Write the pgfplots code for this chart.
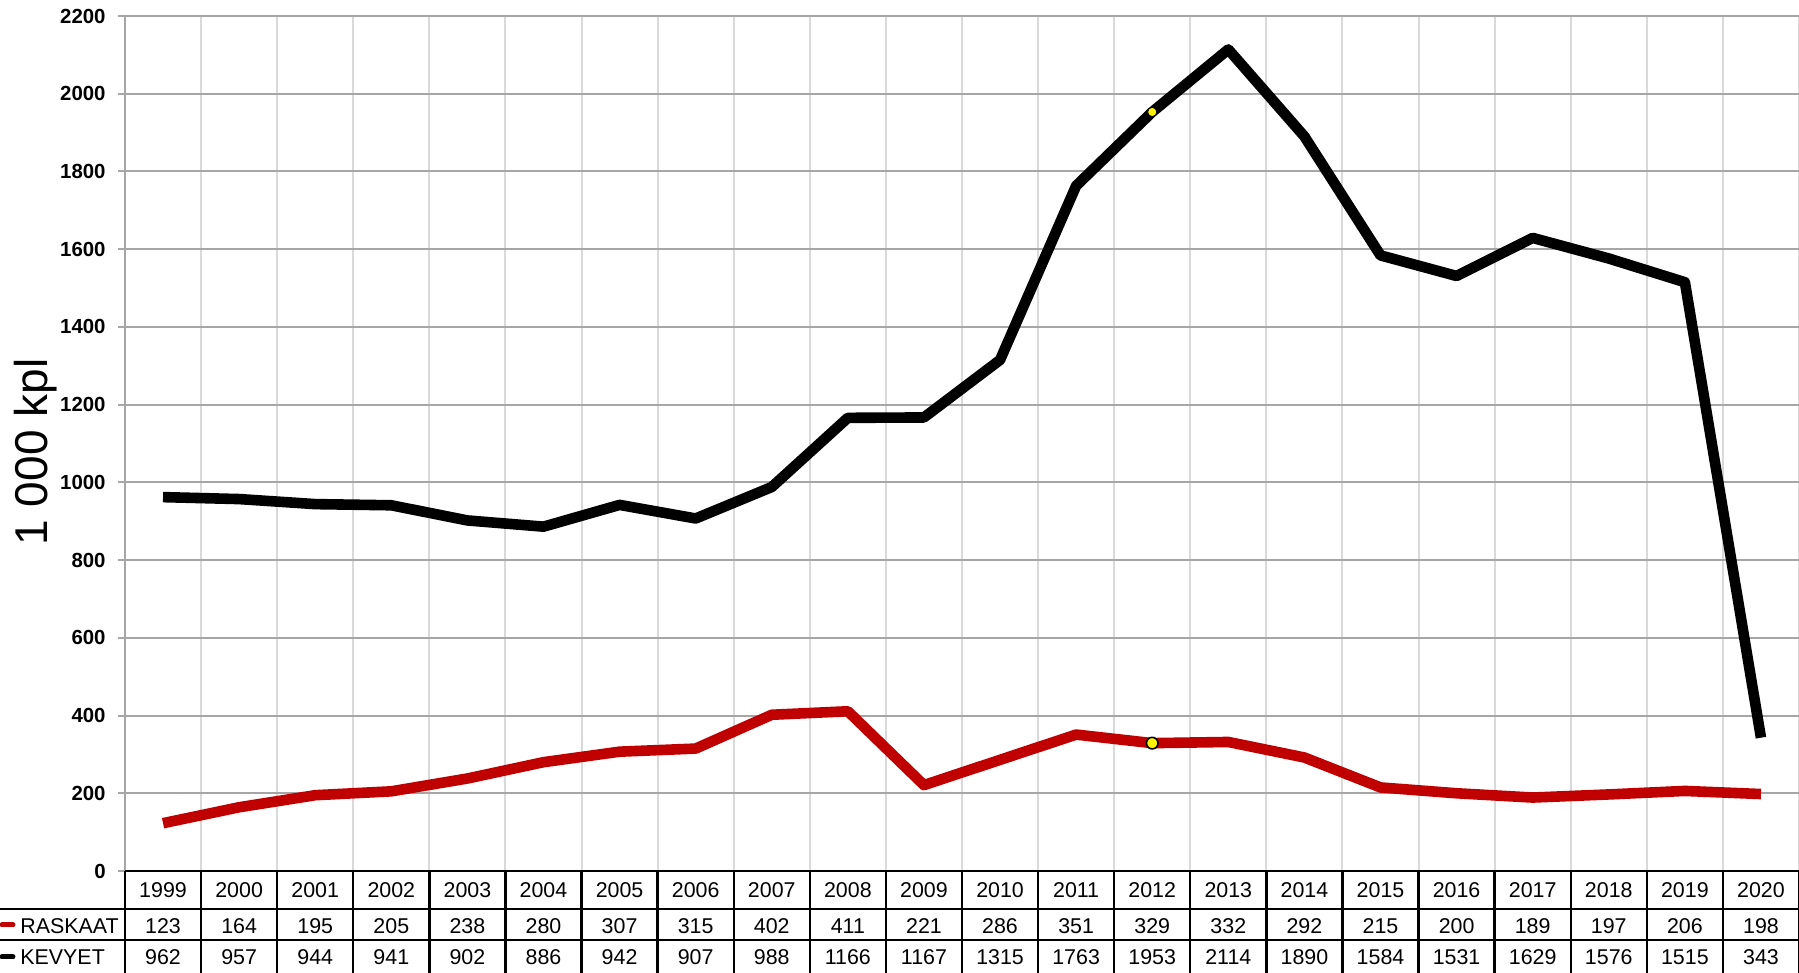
\documentclass[border=0pt]{standalone}
\usepackage{pgfplots}
\pgfplotsset{compat=1.18}
\usepackage{pgfplotstable}
\usepackage{fontspec}
\setmainfont{Liberation Sans}
\definecolor{redline}{HTML}{C00000}
\definecolor{gridgray}{HTML}{A6A6A6}
\definecolor{vgray}{HTML}{D9D9D9}

\pgfplotstableread{
idx year raskaat kevyet
0 1999 123 962
1 2000 164 957
2 2001 195 944
3 2002 205 941
4 2003 238 902
5 2004 280 886
6 2005 307 942
7 2006 315 907
8 2007 402 988
9 2008 411 1166
10 2009 221 1167
11 2010 286 1315
12 2011 351 1763
13 2012 329 1953
14 2013 332 2114
15 2014 292 1890
16 2015 215 1584
17 2016 200 1531
18 2017 189 1629
19 2018 197 1576
20 2019 206 1515
21 2020 198 343
}\data

\newcommand\tabfont{\fontsize{10.7}{12}\selectfont}

\begin{document}
\begin{tikzpicture}
\def\catw{38.04545}
\begin{axis}[
  at={(0,0)}, anchor=south west,
  scale only axis, width=837pt, height=427.5pt,
  xmin=-0.5, xmax=21.5, ymin=0, ymax=2200,
  axis lines*=left,
  axis line style={draw=gridgray, line width=1pt, -},
  xtick={-0.5,0.5,...,21.5}, xticklabels={},
  xtick style={draw=none},
  xmajorgrids, ymajorgrids,
  x grid style={vgray, line width=1pt},
  y grid style={gridgray, line width=1pt},
  ytick={0,200,...,2200},
  tick align=outside,
  major tick length=3.5pt,
  ytick style={draw=gridgray, line width=1pt},
  yticklabel style={font=\bfseries\fontsize{10.2}{12}\selectfont, inner sep=0pt, xshift=-6pt},
  /pgf/number format/assume math mode=true,
  /pgf/number format/1000 sep={},
  ylabel={1 000 kpl},
  ylabel style={font=\fontsize{23}{26}\selectfont, at={(axis description cs:-0.0535,0.49)}, anchor=center},
  clip=false,
]
\addplot[redline, line width=5.3pt, line join=round] table[x=idx, y=raskaat]{\data};
\addplot[black, line width=5.3pt, line join=round] table[x=idx, y=kevyet]{\data};
\addplot[only marks, mark=*, mark size=2.3pt, mark options={fill=yellow, draw=none}] coordinates {(13,1953)};
\addplot[only marks, mark=*, mark size=2.9pt, mark options={fill=yellow, draw=black, line width=0.8pt}] coordinates {(13,329)};
\end{axis}
% data table under the plot
\draw[black, line width=1.2pt] (0,0) -- (837pt,0);
\draw[black, line width=1.2pt] (-62.5pt,-19pt) -- (837pt,-19pt);
\draw[black, line width=1.2pt] (-62.5pt,-34.5pt) -- (837pt,-34.5pt);
\foreach \k in {0,...,22}{
  \draw[black, line width=1.2pt] ({\k*\catw*1pt},0) -- ({\k*\catw*1pt},-52pt);
}
\foreach \i in {0,...,21}{
  \pgfplotstablegetelem{\i}{year}\of\data \let\yr\pgfplotsretval
  \pgfplotstablegetelem{\i}{raskaat}\of\data \let\ra\pgfplotsretval
  \pgfplotstablegetelem{\i}{kevyet}\of\data \let\ke\pgfplotsretval
  \node[font=\tabfont, inner sep=0pt] at ({(\i+0.5)*\catw*1pt},-9.5pt) {\yr};
  \node[font=\tabfont, inner sep=0pt] at ({(\i+0.5)*\catw*1pt},-27.5pt) {\ra};
  \node[font=\tabfont, inner sep=0pt] at ({(\i+0.5)*\catw*1pt},-43.25pt) {\ke};
}
\draw[redline, line width=2.5pt, line cap=round] (-61.5pt,-27pt) -- (-56pt,-27pt);
\node[anchor=west, font=\tabfont, inner sep=0pt] at (-52.5pt,-27.5pt) {RASKAAT};
\draw[black, line width=2.5pt, line cap=round] (-61.5pt,-43pt) -- (-56pt,-43pt);
\node[anchor=west, font=\tabfont, inner sep=0pt] at (-52.5pt,-43.25pt) {KEVYET};
\pgfresetboundingbox
\path[use as bounding box] (-62.5pt,-51pt) rectangle (837pt,435.5pt);
\end{tikzpicture}
\end{document}
